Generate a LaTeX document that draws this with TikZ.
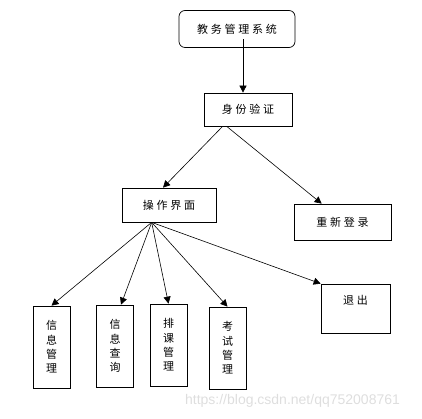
\documentclass[tikz,border=0pt]{standalone}
\usepackage{fontspec}
\newfontfamily\cjk[LetterSpace=25]{Noto Sans CJK SC}
\newfontfamily\wmfont{Liberation Sans}
\usetikzlibrary{arrows.meta}
\usetikzlibrary{calc}

\begin{document}
\begin{tikzpicture}[x=1pt,y=-1pt,
    box/.style={draw,line width=0.7pt,inner sep=0pt,font=\cjk\fontsize{11}{14.3}\selectfont},
    vbox/.style={box,align=center,minimum width=37pt,minimum height=82pt},
    link/.style={draw,line width=0.6pt,-{Triangle[length=7pt,width=7pt]}}]

  \useasboundingbox (0,0) rectangle (422,419);

  \node [box,rounded corners=6pt,minimum width=116pt,minimum height=37pt] (sys) at (237,29) {教务管理系统};
  \node [box,minimum width=88pt,minimum height=33pt] (auth) at (248,109.5) {身份验证};
  \node [box,minimum width=94pt,minimum height=34pt] (ops) at (169,205) {操作界面};
  \node [box,minimum width=97pt,minimum height=36pt] (relog) at (342.5,222) {重新登录};
  \node [box,minimum width=69pt,minimum height=49pt,text height=9pt,text depth=17pt] (quit) at (355.5,308.5) {退出};

  \node [vbox] (info)   at (51.5,347) {信\\息\\管\\理};
  \node [vbox] (query)  at (115,346)  {信\\息\\查\\询};
  \node [vbox] (course) at (168.5,345) {排\\课\\管\\理};
  \node [vbox] (exam)   at (227.5,348) {考\\试\\管\\理};

  \coordinate (sys_out) at ($(sys.south)+(6,-8.5)$);
  \coordinate (ops_out) at ($(ops.south west)+(30,0)$);

  \path
    (sys_out) edge [link] (sys_out |- auth.north)
    ($(auth.south west)+(19,0)$) edge [link] ($(ops.north)+(-6,0)$)
    ($(auth.south west)+(23,0)$) edge [link] ($(relog.north west)+(28,0)$)
    (ops_out) edge [link] (info.north)
    (ops_out) edge [link] ($(query.north)+(6,0)$)
    (ops_out) edge [link] (course.north)
    (ops_out) edge [link] (exam.north)
    (ops_out) edge [link] (quit.north west);

  \node [font=\wmfont\fontsize{14}{14}\selectfont,text=black!13] (mark) at (292.5,401) {https://blog.csdn.net/qq752008761};

\end{tikzpicture}
\end{document}
